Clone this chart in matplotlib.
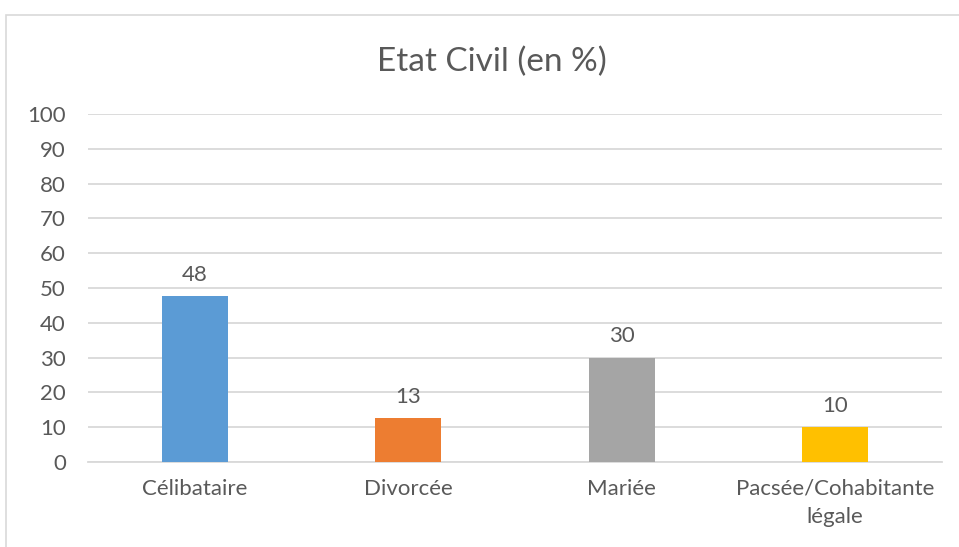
import matplotlib
matplotlib.use("Agg")
import matplotlib.pyplot as plt
from matplotlib.patches import Rectangle

# Data
categories = ["Célibataire", "Divorcée", "Mariée", "Pacsée/Cohabitante\nlégale"]
values = [47.6, 12.6, 30, 10]
colors = ["#5B9BD5", "#ED7D31", "#A5A5A5", "#FFC000"]
title = "Etat Civil (en %)"

text_color = "#595959"
grid_color = "#D9D9D9"

plt.rcParams["font.family"] = ["Lato", "DejaVu Sans"]

fig = plt.figure(figsize=(9.59, 5.47), dpi=100)
ax = fig.add_axes([0.0918, 0.1554, 0.8902, 0.6362])

# chart frame
fig.patches.append(Rectangle((6 / 959, -0.05), 1.0, 1 - 15 / 547 + 0.05,
                             transform=fig.transFigure, fill=False,
                             edgecolor="#D9D9D9", linewidth=1.2))

x = range(len(categories))
bars = ax.bar(x, values, width=0.31, color=colors, zorder=3)

for rect, v in zip(bars, values):
    ax.annotate(f"{v:.0f}", (rect.get_x() + rect.get_width() / 2, v),
                xytext=(0, 8), textcoords="offset points",
                ha="center", va="bottom", fontsize=16, color=text_color)

ax.set_xlim(-0.5, 3.5)
ax.set_ylim(0, 100)
ax.set_yticks(range(0, 101, 10))
ax.set_xticks(list(x))
ax.set_xticklabels(categories, linespacing=1.5)
ax.yaxis.grid(True, color=grid_color, linewidth=1.3, zorder=0)
ax.set_axisbelow(True)

for s in ["top", "right", "left"]:
    ax.spines[s].set_visible(False)
ax.spines["bottom"].set_color(grid_color)
ax.spines["bottom"].set_linewidth(1.3)

ax.tick_params(axis="both", length=0, labelsize=16, labelcolor=text_color)
ax.tick_params(axis="y", pad=16)
ax.tick_params(axis="x", pad=12)

fig.text(0.513, 0.886, title, ha="center", va="center",
         fontsize=24, color=text_color)

fig.savefig("out.png", dpi=100)
